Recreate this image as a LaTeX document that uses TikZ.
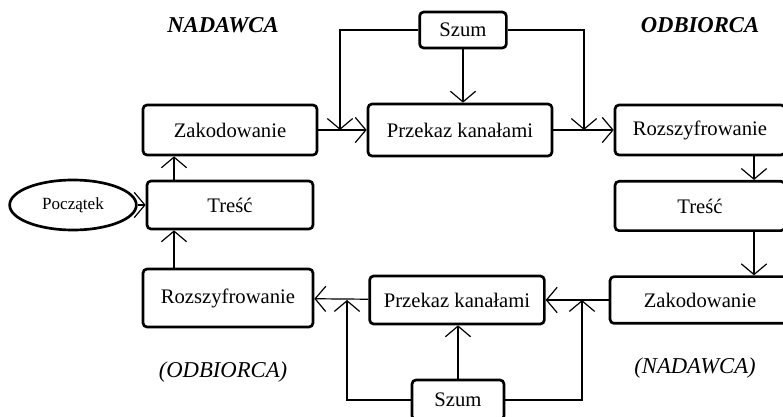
\documentclass[tikz,border=0pt]{standalone}
\usepackage{fontspec}
\setmainfont{Liberation Serif}
\usetikzlibrary{arrows.meta,shapes.geometric}

\begin{document}
\begin{tikzpicture}[x=0.75pt,y=-0.75pt,
		every node/.style={font=\fontsize{15.5}{18}\selectfont},
		blok/.style={draw,line width=2pt,rounded corners=3pt,inner sep=0pt},
		strz/.style={-{Straight Barb[length=8pt,width=19pt]},line width=0.9pt},
		tytul/.style={font=\fontsize{17}{20}\selectfont\bfseries\itshape},
		rola/.style={font=\fontsize{17}{20}\selectfont\itshape}]
		\useasboundingbox (0,0) rectangle (783,417);
		\coordinate (p1) at (754,0);
		\coordinate (p2) at (174,0);
		\coordinate (k1) at (340,130);
		\coordinate (k2) at (584,130);
		\coordinate (k3) at (582,300);
		\coordinate (k4) at (347,300);
		\node[tytul] (nad) at (223,25) {NADAWCA};
		\node[tytul] (odb) at (700,25) {ODBIORCA};
		\node[rola] (odb2) at (223,372) {(ODBIORCA)};
		\node[rola] (nad2) at (695,368) {(NADAWCA)};
		\node[blok,minimum width=65pt,minimum height=27pt] (szum1) at (463,30) {Szum};
		\node[blok,minimum width=130.5pt,minimum height=37.5pt] (zak1) at (230,130) {Zakodowanie};
		\node[blok,minimum width=138pt,minimum height=39pt] (przek1) at (460,130) {Przekaz kanałami};
		\node[blok,minimum width=127.5pt,minimum height=37.5pt] (rozs1) at (700,130) {Rozszyfrowanie};
		\node[draw,ellipse,line width=2pt,inner sep=0pt,minimum width=95pt,minimum height=37.5pt,font=\fontsize{12.8}{15}\selectfont] (pocz) at (73,205) {Początek};
		\node[blok,minimum width=124.5pt,minimum height=36pt] (tresc1) at (230,205) {Treść};
		\node[blok,minimum width=127.5pt,minimum height=37pt] (tresc2) at (700,206) {Treść};
		\node[blok,minimum width=135pt,minimum height=35pt] (zak2) at (700,300) {Zakodowanie};
		\node[blok,minimum width=131pt,minimum height=36pt] (przek2) at (457,300) {Przekaz kanałami};
		\node[blok,minimum width=127.5pt,minimum height=43.5pt] (rozs2) at (228,298) {Rozszyfrowanie};
		\node[blok,minimum width=69pt,minimum height=30pt] (szum2) at (458,400) {Szum};
		\draw[strz] (zak1) -- (przek1);
		\draw[strz] (przek1) -- (rozs1);
		\draw[strz] (szum1.west) -| (k1);
		\draw[strz] (szum1.east) -| (k2);
		\draw[strz] (szum1.south) -- (szum1.south |- przek1.north);
		\draw[strz] (rozs1.south -| p1) -- (tresc2.north -| p1);
		\draw[strz] (tresc2.south -| p1) -- (zak2.north -| p1);
		\draw[strz] (zak2) -- (przek2);
		\draw[strz] (przek2) -- (rozs2);
		\draw[strz] (szum2.north) -- (szum2.north |- przek2.south);
		\draw[strz] (szum2.east) -| (k3);
		\draw[strz] (szum2.west) -| (k4);
		\draw[strz] (rozs2.north -| p2) -- (tresc1.south -| p2);
		\draw[strz] (tresc1.north -| p2) -- (zak1.south -| p2);
		\draw[strz] (pocz) -- (tresc1);
	\end{tikzpicture}
\end{document}
